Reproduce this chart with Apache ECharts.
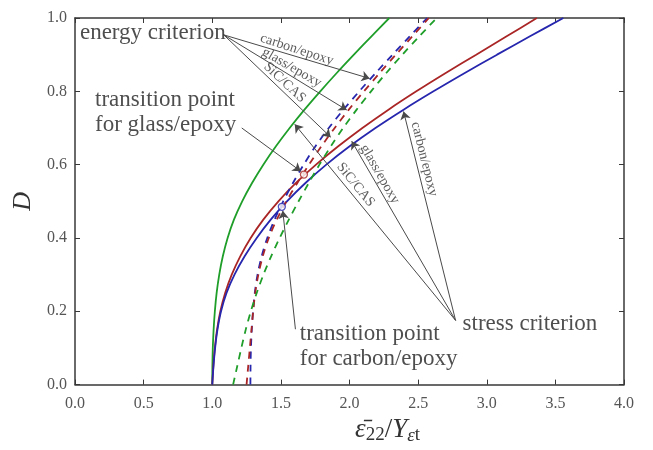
<!DOCTYPE html>
<html>
<head>
<meta charset="utf-8">
<script src="https://cdn.jsdelivr.net/npm/echarts@6/dist/echarts.min.js"></script>
<style>
html, body {margin: 0; padding: 0; background: #fff;}
#main {width: 653px; height: 450px;}
</style>
</head>
<body>
<div id="main"></div>
<script>
// damage levels, shared by every curve
var dLevels = [0, 0.05, 0.1, 0.15, 0.2, 0.25, 0.3, 0.35, 0.4, 0.45, 0.5, 0.55, 0.6, 0.65, 0.7, 0.75, 0.8, 0.85, 0.9, 0.95, 1.0];

// strain at each damage level
var sicStress = [1.0, 1.001, 1.004, 1.010, 1.019, 1.032, 1.051, 1.077, 1.112, 1.158, 1.218, 1.290, 1.372, 1.464, 1.564, 1.672, 1.787, 1.907, 2.032, 2.160, 2.290];
var glassStress = [1.0, 1.008, 1.019, 1.035, 1.059, 1.094, 1.142, 1.204, 1.280, 1.372, 1.482, 1.610, 1.756, 1.918, 2.094, 2.284, 2.487, 2.701, 2.923, 3.145, 3.365];
var carbonStress = [1.0, 1.009, 1.021, 1.038, 1.064, 1.104, 1.162, 1.236, 1.324, 1.426, 1.544, 1.679, 1.831, 2.001, 2.189, 2.394, 2.612, 2.840, 3.075, 3.315, 3.558];
var carbonEnergy = [1.278, 1.279, 1.282, 1.288, 1.297, 1.31, 1.33, 1.36, 1.401, 1.454, 1.517, 1.588, 1.666, 1.752, 1.849, 1.956, 2.071, 2.191, 2.314, 2.439, 2.566];
var glassEnergy = [1.25, 1.262, 1.274, 1.286, 1.298, 1.313, 1.336, 1.368, 1.412, 1.47, 1.54, 1.62, 1.705, 1.795, 1.892, 1.995, 2.105, 2.22, 2.338, 2.458, 2.578];
var sicEnergy = [1.152, 1.182, 1.212, 1.244, 1.281, 1.324, 1.373, 1.429, 1.491, 1.558, 1.629, 1.703, 1.781, 1.864, 1.954, 2.052, 2.157, 2.268, 2.385, 2.508, 2.636];

// transition points
var glassTransition = [1.668, 0.573];
var carbonTransition = [1.507, 0.485];

// annotation anchors and arrow tips
var energyAnchor = [1.084, 0.954];
var energyTips = [[2.147, 0.835], [1.98, 0.749], [1.863, 0.675]];
var stressAnchor = [2.773, 0.175];
var stressTips = [[2.394, 0.745], [2.016, 0.664], [1.601, 0.71]];
var transArrows = [[[1.215, 0.70], [1.645, 0.582]], [[1.606, 0.151], [1.514, 0.474]]];

var bigLabels = ['energy criterion', 'transition point\nfor glass/epoxy', 'transition point\nfor carbon/epoxy', 'stress criterion'];
var bigLabelAt = [[0.036, 0.959], [0.146, 0.741], [1.638, 0.104], [2.824, 0.165]];
var smallLabels = ['carbon/epoxy', 'glass/epoxy', 'SiC/CAS', 'carbon/epoxy', 'glass/epoxy', 'SiC/CAS'];
var smallLabelAt = [[1.616, 0.914], [1.579, 0.865], [1.528, 0.824], [2.545, 0.615], [2.22, 0.574], [2.045, 0.545]];
var smallLabelRot = [-18, -30, -43, -76, -60, -51];

var GREEN = '#1f9e2a', RED = '#aa2626', BLUE = '#2626ae';
var SERIF = '"Liberation Serif", "DejaVu Serif", serif';

var mChart = echarts.init(document.getElementById('main'));

function axisBase(min, max, interval, pos, showLabel, margin) {
    return {
        type: 'value', min: min, max: max, interval: interval, position: pos,
        axisLine: {show: true, onZero: false, lineStyle: {color: '#383838', width: 1.5}},
        axisTick: {show: true, inside: true, length: 5, lineStyle: {color: '#383838', width: 1}},
        axisLabel: {
            show: showLabel, color: '#555', fontFamily: SERIF, fontSize: 16, margin: margin || 9,
            formatter: function (v) { return v.toFixed(1); }
        },
        splitLine: {show: false}
    };
}

function curve(xs, color, dashed) {
    var data = xs.map(function (x, i) { return [x, dLevels[i]]; });
    return {
        type: 'line', data: data, smooth: 0.3, symbol: 'none', xAxisIndex: 0, yAxisIndex: 0,
        lineStyle: {color: color, width: 1.8, type: dashed ? [7, 6] : 'solid'},
        z: 3
    };
}

var arrowData = [];
energyTips.forEach(function (t) { arrowData.push({coords: [energyAnchor, t]}); });
stressTips.forEach(function (t) { arrowData.push({coords: [stressAnchor, t]}); });
transArrows.forEach(function (a) { arrowData.push({coords: a}); });

var textData = [];
bigLabels.forEach(function (s, i) {
    textData.push({
        value: bigLabelAt[i],
        label: {show: true, formatter: s, position: 'inside', align: 'left', verticalAlign: 'middle',
            fontFamily: SERIF, fontSize: 23, lineHeight: 25, color: '#222'}
    });
});
smallLabels.forEach(function (s, i) {
    textData.push({
        value: smallLabelAt[i],
        label: {show: true, formatter: s, position: 'inside', align: 'center', verticalAlign: 'middle',
            rotate: smallLabelRot[i], fontFamily: SERIF, fontSize: 14, color: '#333'}
    });
});

var xa = axisBase(0, 4, 0.5, 'bottom', true, 11);
xa.name = '{e|ε\u0304}{s|22}{n|/}{e|Y}{si|ε}{s|t}';
xa.nameLocation = 'middle';
xa.nameGap = 29;
xa.nameTextStyle = {
    padding: [0, 0, 0, 76],
    rich: {
        e: {fontFamily: SERIF, fontStyle: 'italic', fontSize: 27, lineHeight: 30, color: '#333'},
        n: {fontFamily: SERIF, fontSize: 27, lineHeight: 30, color: '#333'},
        s: {fontFamily: SERIF, fontSize: 19, lineHeight: 18, verticalAlign: 'bottom', color: '#333'},
        si: {fontFamily: SERIF, fontStyle: 'italic', fontSize: 19, lineHeight: 18, verticalAlign: 'bottom', color: '#333'}
    }
};
var ya = axisBase(0, 1, 0.2, 'left', true, 8);
ya.name = 'D';
ya.nameLocation = 'middle';
ya.nameRotate = 90;
ya.nameGap = 39;
ya.nameTextStyle = {fontFamily: SERIF, fontStyle: 'italic', fontSize: 26, color: '#333'};

var option = {
    animation: false,
    backgroundColor: '#fff',
    grid: {left: 75, right: 29, top: 18, bottom: 64, containLabel: false},
    xAxis: [xa, axisBase(0, 4, 0.5, 'top', false)],
    yAxis: [ya, axisBase(0, 1, 0.2, 'right', false)],
    series: [
        curve(sicStress, GREEN, false),
        curve(glassStress, RED, false),
        curve(carbonStress, BLUE, false),
        curve(carbonEnergy, BLUE, true),
        curve(glassEnergy, RED, true),
        curve(sicEnergy, GREEN, true),
        {
            type: 'lines', coordinateSystem: 'cartesian2d', xAxisIndex: 0, yAxisIndex: 0,
            data: arrowData, symbol: ['none', 'arrow'], symbolSize: 8,
            lineStyle: {color: '#4a4a4a', width: 1, opacity: 1}, z: 4
        },
        {
            type: 'scatter', xAxisIndex: 0, yAxisIndex: 0, symbol: 'circle', symbolSize: 7, z: 5,
            data: [
                {value: glassTransition, itemStyle: {color: '#fff', borderColor: RED, borderWidth: 1.3}},
                {value: carbonTransition, itemStyle: {color: '#fff', borderColor: BLUE, borderWidth: 1.3}}
            ]
        },
        {
            type: 'scatter', xAxisIndex: 0, yAxisIndex: 0, symbolSize: 1, z: 6, silent: true,
            itemStyle: {color: 'rgba(0,0,0,0)'}, data: textData
        }
    ]
};
mChart.setOption(option);
</script>
</body>
</html>
